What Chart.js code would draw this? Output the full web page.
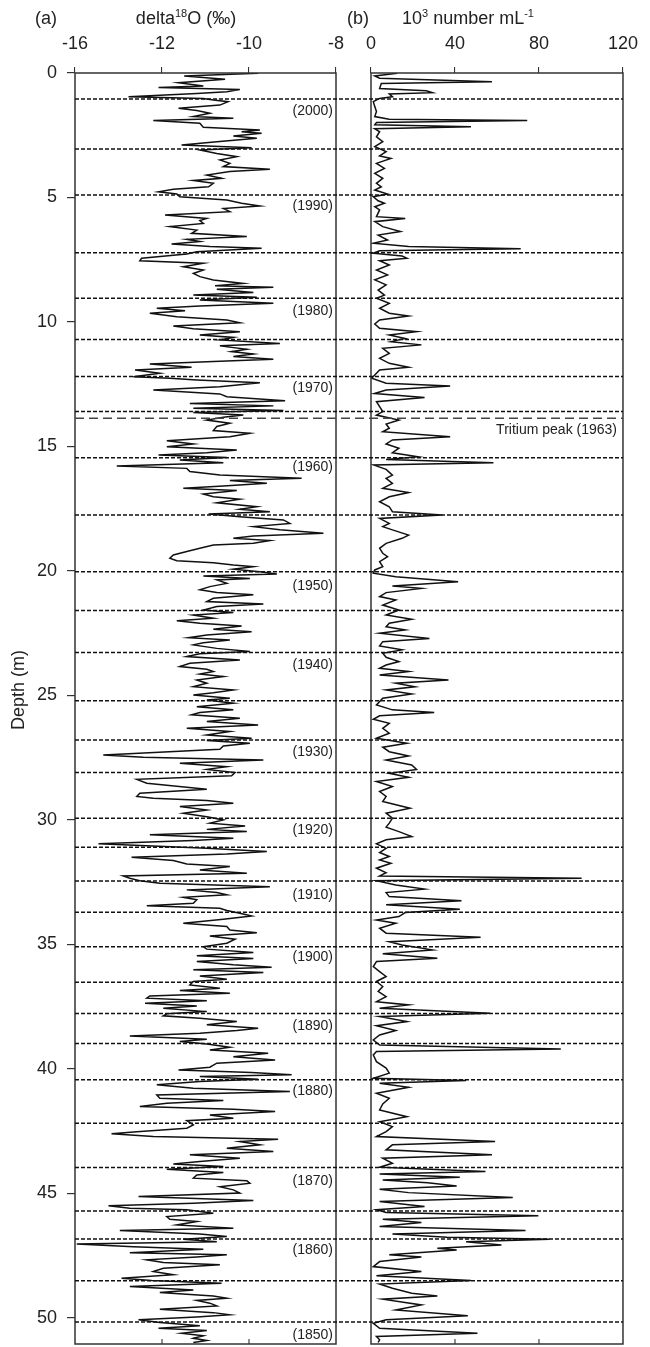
<!DOCTYPE html>
<html><head><meta charset="utf-8">
<script src="https://cdn.jsdelivr.net/npm/chart.js@4.4.1/dist/chart.umd.min.js"></script>
<style>
html,body{margin:0;padding:0;background:#fff;}
#wrap{position:relative;width:650px;height:1347px;background:#fff;}
canvas{position:absolute;left:0;top:0;}
</style></head><body>
<div id="wrap"><canvas id="ca" width="650" height="1347"></canvas><canvas id="cb" width="650" height="1347"></canvas></div>
<script>
// ---------- data ----------
const depthA = [0.01,0.12,0.25,0.39,0.52,0.58,0.66,0.75,0.82,0.95,1.02,1.08,1.15,1.29,1.42,1.51,1.62,1.75,1.82,1.91,2.02,2.18,2.29,2.36,2.42,2.53,2.62,2.76,2.89,3.00,3.09,3.23,3.36,3.49,3.63,3.76,3.87,3.96,4.10,4.23,4.32,4.43,4.57,4.67,4.77,4.86,4.97,5.10,5.23,5.34,5.44,5.57,5.70,5.84,5.93,6.04,6.17,6.31,6.44,6.57,6.68,6.77,6.87,6.97,7.04,7.18,7.27,7.44,7.54,7.64,7.78,7.91,8.05,8.18,8.31,8.45,8.55,8.61,8.69,8.82,8.92,9.01,9.12,9.25,9.36,9.45,9.55,9.65,9.79,9.92,10.03,10.16,10.27,10.39,10.52,10.62,10.72,10.86,10.96,11.10,11.19,11.29,11.39,11.50,11.59,11.69,11.82,11.93,12.06,12.20,12.26,12.33,12.44,12.60,12.73,12.89,13.00,13.16,13.27,13.37,13.47,13.56,13.64,13.74,13.83,13.94,14.07,14.20,14.36,14.47,14.61,14.77,14.90,15.01,15.14,15.25,15.34,15.44,15.54,15.65,15.78,15.88,16.01,16.15,16.28,16.37,16.48,16.59,16.68,16.77,16.91,17.02,17.12,17.26,17.42,17.52,17.62,17.71,17.82,17.95,18.09,18.22,18.35,18.49,18.60,18.69,18.78,18.89,18.96,19.09,19.22,19.36,19.49,19.59,19.67,19.76,19.83,19.93,20.03,20.12,20.20,20.30,20.36,20.50,20.63,20.76,20.87,20.96,21.10,21.23,21.33,21.43,21.57,21.67,21.77,21.90,22.00,22.10,22.21,22.34,22.44,22.57,22.68,22.77,22.88,22.97,23.11,23.24,23.33,23.44,23.58,23.71,23.84,23.95,24.04,24.14,24.24,24.38,24.51,24.65,24.78,24.89,24.98,25.11,25.18,25.31,25.45,25.58,25.69,25.78,25.92,26.05,26.19,26.32,26.45,26.59,26.72,26.81,26.92,27.03,27.16,27.39,27.48,27.59,27.72,27.86,27.97,28.10,28.23,28.37,28.53,28.77,28.93,29.06,29.13,29.22,29.33,29.46,29.60,29.73,29.87,30.00,30.13,30.24,30.38,30.47,30.60,30.74,30.83,30.96,31.14,31.27,31.37,31.50,31.63,31.77,31.87,32.01,32.14,32.25,32.34,32.44,32.54,32.68,32.81,32.92,33.01,33.11,33.21,33.35,33.45,33.55,33.64,33.75,33.86,33.99,34.15,34.28,34.42,34.53,34.66,34.79,34.95,35.09,35.19,35.33,35.46,35.57,35.69,35.82,35.92,36.02,36.13,36.27,36.40,36.49,36.63,36.76,36.85,36.96,37.07,37.16,37.26,37.36,37.47,37.56,37.70,37.79,37.87,37.97,38.10,38.23,38.37,38.46,38.57,38.68,38.81,38.90,39.00,39.13,39.24,39.37,39.51,39.64,39.77,39.93,40.04,40.15,40.24,40.31,40.42,40.51,40.64,40.78,40.91,41.05,41.18,41.27,41.38,41.51,41.62,41.71,41.85,41.98,42.08,42.25,42.38,42.52,42.61,42.72,42.83,42.92,43.05,43.19,43.32,43.45,43.59,43.72,43.82,43.92,44.03,44.16,44.26,44.39,44.49,44.59,44.73,44.86,44.99,45.13,45.29,45.40,45.50,45.60,45.66,45.80,45.93,46.04,46.13,46.27,46.40,46.49,46.63,46.73,46.84,46.94,47.03,47.14,47.24,47.38,47.47,47.56,47.67,47.78,47.87,48.01,48.14,48.27,48.41,48.50,48.61,48.74,48.88,48.98,49.12,49.21,49.30,49.41,49.52,49.65,49.79,49.88,49.97,50.08,50.19,50.32,50.42,50.51,50.62,50.72,50.82,50.91,50.99];
const d18O = [-9.79,-11.49,-10.55,-11.62,-11.05,-12.08,-10.21,-10.51,-11.20,-12.77,-11.05,-10.82,-10.48,-10.67,-11.62,-11.20,-10.90,-11.28,-10.36,-12.20,-11.13,-11.05,-9.75,-10.17,-9.71,-10.36,-9.82,-10.74,-11.55,-9.94,-11.13,-10.74,-10.28,-10.67,-10.44,-10.59,-9.52,-10.44,-10.97,-10.63,-11.28,-10.82,-10.93,-11.74,-12.08,-11.66,-11.59,-10.51,-10.17,-9.75,-10.59,-10.44,-11.93,-10.97,-11.13,-11.05,-11.82,-11.20,-11.32,-10.05,-11.43,-11.13,-11.78,-10.90,-9.71,-11.20,-11.43,-12.47,-12.51,-11.05,-11.51,-11.05,-11.28,-11.13,-10.82,-10.13,-10.78,-9.44,-10.74,-9.90,-11.28,-9.82,-11.13,-9.44,-11.13,-12.12,-11.47,-12.28,-11.66,-10.51,-10.21,-11.74,-11.28,-10.21,-11.13,-10.36,-10.67,-9.29,-10.67,-10.05,-10.40,-9.90,-10.36,-9.44,-10.82,-12.28,-11.32,-12.62,-12.05,-12.66,-11.82,-11.20,-9.75,-10.67,-12.20,-10.67,-10.51,-9.17,-11.36,-9.44,-11.28,-9.21,-11.28,-10.13,-10.59,-10.97,-10.44,-10.74,-10.82,-9.98,-10.44,-11.89,-11.28,-11.89,-10.28,-10.97,-12.08,-10.51,-11.59,-10.59,-13.04,-11.43,-11.36,-10.67,-8.79,-10.44,-9.59,-10.59,-11.51,-10.28,-11.05,-10.82,-10.21,-10.74,-9.82,-10.21,-9.52,-10.93,-10.21,-9.21,-9.06,-9.90,-9.29,-8.29,-9.90,-10.36,-9.52,-9.90,-10.82,-11.13,-11.43,-11.74,-11.82,-11.66,-10.82,-10.36,-9.90,-10.36,-9.75,-9.36,-11.05,-9.98,-10.74,-10.51,-10.90,-11.13,-10.74,-9.90,-10.82,-10.97,-9.67,-10.74,-11.05,-10.36,-11.28,-10.82,-11.66,-11.13,-10.17,-10.82,-9.94,-10.97,-11.39,-10.44,-11.05,-11.28,-10.74,-9.98,-11.13,-11.43,-10.21,-11.36,-11.59,-10.97,-10.82,-11.13,-10.59,-11.20,-10.97,-11.28,-10.36,-10.82,-11.28,-10.44,-10.97,-10.36,-11.20,-10.36,-11.13,-11.32,-10.21,-10.97,-9.79,-11.43,-10.44,-10.97,-9.94,-10.97,-9.98,-10.59,-10.67,-13.35,-12.43,-9.67,-11.59,-10.51,-10.97,-10.32,-10.40,-12.58,-12.35,-10.97,-12.51,-12.58,-12.20,-10.97,-10.36,-11.59,-10.97,-11.51,-10.97,-10.59,-10.90,-10.09,-10.97,-10.05,-12.28,-10.36,-11.28,-13.46,-10.97,-9.59,-10.51,-12.70,-11.74,-11.43,-10.44,-11.13,-10.05,-12.89,-12.74,-12.51,-12.05,-9.52,-11.43,-10.74,-10.51,-11.51,-11.20,-11.28,-12.35,-10.67,-10.51,-10.21,-9.94,-10.59,-11.51,-10.51,-10.44,-9.82,-10.90,-10.32,-10.51,-11.05,-10.97,-9.90,-11.20,-9.90,-11.20,-10.36,-9.48,-11.28,-9.67,-11.13,-10.51,-11.28,-11.36,-10.67,-11.59,-10.44,-12.28,-12.35,-10.97,-12.39,-11.20,-11.97,-10.97,-11.89,-11.97,-11.13,-10.28,-10.97,-9.79,-10.28,-11.13,-12.74,-10.97,-11.59,-10.97,-10.44,-10.90,-9.56,-10.36,-9.40,-10.74,-10.90,-11.62,-9.94,-9.02,-11.13,-9.79,-11.13,-12.12,-11.28,-9.06,-12.12,-12.05,-10.59,-11.89,-12.51,-10.36,-9.40,-10.90,-10.36,-11.43,-11.28,-11.43,-12.58,-13.16,-12.20,-9.33,-10.21,-9.75,-10.51,-9.44,-11.36,-10.21,-11.13,-11.74,-10.59,-11.89,-10.59,-11.20,-11.28,-10.05,-9.98,-10.67,-10.36,-10.21,-12.54,-9.90,-11.28,-13.23,-12.74,-11.43,-10.82,-11.89,-11.82,-11.20,-11.66,-10.36,-12.97,-11.13,-10.51,-11.51,-10.74,-13.96,-12.66,-11.05,-12.74,-10.51,-11.20,-12.35,-11.97,-10.67,-11.97,-12.20,-11.74,-12.93,-12.24,-10.63,-12.74,-11.28,-12.05,-10.82,-10.51,-11.20,-10.90,-10.74,-12.05,-10.82,-10.44,-11.20,-12.54,-12.05,-11.13,-12.08,-10.97,-11.55,-11.05,-11.28,-10.97,-11.28];

const depthB = [0.01,0.12,0.21,0.35,0.42,0.62,0.71,0.79,0.84,0.95,1.02,1.15,1.35,1.55,1.75,1.86,1.91,1.99,2.08,2.16,2.24,2.36,2.56,2.76,2.96,3.16,3.33,3.43,3.63,3.83,4.03,4.23,4.43,4.57,4.70,4.86,4.97,5.13,5.23,5.37,5.50,5.77,5.84,5.97,6.17,6.37,6.51,6.71,6.84,6.97,7.06,7.14,7.24,7.35,7.44,7.54,7.71,7.91,8.11,8.31,8.51,8.72,8.92,9.05,9.25,9.45,9.65,9.76,9.92,10.08,10.25,10.39,10.52,10.66,10.79,10.92,11.06,11.26,11.46,11.66,11.82,11.93,12.13,12.26,12.46,12.57,12.73,12.87,13.03,13.20,13.40,13.60,13.74,13.94,14.10,14.27,14.41,14.61,14.74,14.90,15.07,15.25,15.41,15.52,15.65,15.74,15.92,16.15,16.28,16.48,16.68,16.85,17.02,17.22,17.42,17.62,17.75,17.89,18.09,18.22,18.35,18.56,18.69,18.89,19.09,19.29,19.43,19.63,19.83,19.96,20.09,20.23,20.43,20.60,20.70,20.87,21.03,21.17,21.37,21.57,21.77,21.94,22.10,22.24,22.37,22.50,22.71,22.84,23.01,23.17,23.31,23.47,23.64,23.78,23.91,24.04,24.18,24.38,24.51,24.65,24.78,24.94,25.11,25.38,25.58,25.69,25.82,25.96,26.12,26.32,26.52,26.72,26.92,27.08,27.26,27.43,27.59,27.79,27.97,28.13,28.29,28.46,28.66,28.86,29.06,29.26,29.53,29.73,29.93,30.13,30.29,30.47,30.67,30.80,30.96,31.14,31.31,31.47,31.61,31.74,31.94,32.12,32.25,32.34,32.44,32.61,32.78,32.92,33.08,33.25,33.41,33.59,33.72,33.88,34.02,34.15,34.35,34.55,34.71,34.89,35.02,35.22,35.38,35.56,35.69,35.89,36.09,36.29,36.49,36.69,36.89,37.10,37.30,37.43,37.56,37.77,37.90,38.10,38.27,38.46,38.64,38.84,39.04,39.20,39.30,39.44,39.71,39.97,40.17,40.38,40.47,40.58,40.74,40.98,41.18,41.41,41.65,41.92,42.12,42.32,42.52,42.72,42.92,43.05,43.25,43.45,43.59,43.79,43.95,44.12,44.22,44.35,44.46,44.57,44.70,44.83,44.97,45.17,45.33,45.53,45.66,45.77,45.90,46.04,46.17,46.33,46.49,46.63,46.76,46.84,46.94,47.07,47.20,47.27,47.47,47.56,47.74,47.94,48.14,48.31,48.50,48.64,48.81,49.01,49.12,49.25,49.48,49.68,49.92,50.08,50.22,50.42,50.62,50.75,50.88,50.99];
const counts = [12.5,1.8,4.1,57.6,4.9,4.1,26.3,29.3,8.7,10.2,4.1,1.1,1.8,2.6,1.8,8.7,74.4,2.6,1.8,47.6,1.8,4.1,2.6,5.6,1.8,7.2,4.1,9.5,2.6,6.4,1.8,5.6,2.6,4.9,1.8,7.9,1.1,3.4,6.4,1.8,4.1,2.6,16.3,1.8,5.6,14.0,3.4,7.9,1.1,17.9,71.3,4.1,1.1,14.8,17.1,4.1,8.7,2.6,7.9,1.8,7.2,3.4,6.4,2.6,8.7,4.1,8.7,17.9,4.1,1.8,4.1,21.7,8.7,16.3,9.5,24.0,5.6,8.7,4.1,8.7,17.9,4.1,1.8,0.3,7.2,37.7,7.2,1.8,25.5,2.6,4.1,5.6,2.6,13.3,7.2,8.7,5.6,37.7,10.2,7.2,13.3,10.2,22.4,7.2,58.3,1.1,7.2,10.2,7.2,10.2,5.6,17.9,8.7,4.1,8.7,10.2,33.9,4.1,8.7,5.6,10.2,17.9,14.8,7.2,4.1,5.6,7.9,4.1,5.6,1.8,1.1,11.8,41.5,10.2,24.0,7.2,4.1,11.8,5.6,13.3,7.2,19.4,8.7,7.2,16.3,4.1,27.8,5.6,4.1,14.8,5.6,7.2,13.3,7.2,4.1,17.9,4.1,36.9,11.8,20.9,7.2,19.4,5.6,2.6,10.2,30.1,4.1,1.1,8.7,5.6,8.7,2.6,17.1,5.6,8.7,17.9,7.2,19.4,21.7,8.7,17.9,2.6,10.2,4.1,7.2,5.6,18.6,7.2,10.2,8.7,7.2,13.3,19.4,7.2,2.6,7.2,4.1,8.7,4.1,9.5,2.6,7.2,4.1,100.3,2.6,11.8,25.5,7.2,8.7,43.1,7.2,42.3,16.3,13.3,2.6,11.8,4.1,7.2,52.2,8.7,14.8,29.3,5.6,31.6,2.6,1.1,4.1,7.2,2.6,5.6,3.4,7.2,2.6,17.9,4.1,56.8,4.1,17.1,2.6,11.8,4.1,1.1,4.1,90.4,2.6,1.1,2.6,7.2,8.7,1.1,45.3,4.1,17.9,2.6,8.7,5.6,4.1,17.1,4.1,10.2,7.2,2.6,59.1,10.2,7.2,57.6,5.6,10.2,4.1,54.5,4.1,42.3,5.6,27.0,40.8,4.1,17.9,67.5,4.1,25.5,2.6,7.2,79.7,5.6,24.0,4.1,73.6,10.2,36.2,85.0,45.3,62.1,31.6,40.8,8.7,24.0,4.1,1.1,24.0,2.6,47.6,4.1,10.2,19.4,31.6,5.6,24.0,11.8,46.1,7.2,1.1,4.1,50.7,2.6,4.1,3.4];

const depthTicks = [0,5,10,15,20,25,30,35,40,45,50];
const xTicksA = [-14,-12,-10,-8];
const xTickLabelsA = ['-16','-12','-10','-8'];
const xTicksB = [0,40,80,120];
const markerDepths = [1.04,3.05,4.90,7.22,9.05,10.70,12.19,13.60,15.45,17.75,20.03,21.59,23.28,25.21,26.79,28.10,29.93,31.10,32.45,33.71,35.09,36.52,37.78,38.98,40.44,42.18,43.96,45.71,46.83,48.51,50.17];
const yearLabels = ['(2000)','(1990)','(1980)','(1970)','(1960)','(1950)','(1940)','(1930)','(1920)','(1910)','(1900)','(1890)','(1880)','(1870)','(1860)','(1850)'];
const yearDepths = [1.55,5.34,9.58,12.66,15.84,20.60,23.80,27.26,30.43,33.01,35.51,38.30,40.91,44.49,47.27,50.68];
const tritiumDepth = 13.87;
const tritiumLabelDepth = 14.34;
const tritiumLabel = 'Tritium peak (1963)';
const DEPTH_MAX = 51.05;

// ---------- styling ----------
const FONT = "'Liberation Sans', Arial, Helvetica, sans-serif";
Chart.defaults.font.family = FONT;
Chart.defaults.color = '#222';
const INK = '#111';

function rich(ctx, parts, x, y, align) {
  let w = 0;
  parts.forEach(p => { ctx.font = p[1] + 'px ' + FONT; w += ctx.measureText(p[0]).width; });
  let cx = align === 'center' ? x - w / 2 : x;
  ctx.textAlign = 'left';
  ctx.textBaseline = 'alphabetic';
  parts.forEach(p => { ctx.font = p[1] + 'px ' + FONT; ctx.fillText(p[0], cx, y + p[2]); cx += ctx.measureText(p[0]).width; });
}

function frameAndTicks(chart, ticks) {
  const {ctx, chartArea: a} = chart;
  const xs = chart.scales.x;
  ctx.save();
  ctx.strokeStyle = '#333';
  ctx.lineWidth = 1.5;
  ctx.setLineDash([]);
  ctx.strokeRect(a.left, a.top, a.right - a.left, a.bottom - a.top);
  ctx.lineWidth = 1.1;
  ticks.forEach(v => {
    const px = xs.getPixelForValue(v);
    if (px <= a.left + 1 || px >= a.right - 1) return;
    ctx.beginPath(); ctx.moveTo(px, a.bottom); ctx.lineTo(px, a.bottom - 5); ctx.stroke();
  });
  ctx.restore();
}

const panelA = {
  id: 'panelA',
  afterDraw(chart) {
    const {ctx, chartArea: a} = chart;
    const ys = chart.scales.y;
    frameAndTicks(chart, xTicksA);
    ctx.save();
    ctx.fillStyle = '#222';
    ctx.font = '14px ' + FONT;
    ctx.textAlign = 'right';
    ctx.textBaseline = 'middle';
    yearLabels.forEach((t, i) => ctx.fillText(t, a.right - 3, ys.getPixelForValue(yearDepths[i])));
    rich(ctx, [['(a)', 18, 0]], 46, 24, 'center');
    rich(ctx, [['delta', 18, 0], ['18', 11, -7], ['O (‰)', 18, 0]], 186, 24, 'center');
    ctx.save();
    ctx.translate(24, 690);
    ctx.rotate(-Math.PI / 2);
    ctx.font = '18px ' + FONT;
    ctx.textAlign = 'center';
    ctx.textBaseline = 'alphabetic';
    ctx.fillText('Depth (m)', 0, 0);
    ctx.restore();
    ctx.restore();
  }
};

const panelB = {
  id: 'panelB',
  afterDraw(chart) {
    const {ctx, chartArea: a} = chart;
    const ys = chart.scales.y;
    frameAndTicks(chart, xTicksB);
    const left = chartA.chartArea.left;
    ctx.save();
    ctx.strokeStyle = INK;
    ctx.lineWidth = 1.5;
    ctx.setLineDash([4, 2]);
    markerDepths.forEach(d => {
      const py = ys.getPixelForValue(d);
      ctx.beginPath(); ctx.moveTo(left, py); ctx.lineTo(a.right, py); ctx.stroke();
    });
    ctx.strokeStyle = '#444';
    ctx.lineWidth = 1.6;
    ctx.setLineDash([9, 5]);
    const ty = ys.getPixelForValue(tritiumDepth);
    ctx.beginPath(); ctx.moveTo(left, ty); ctx.lineTo(a.right, ty); ctx.stroke();
    ctx.setLineDash([]);
    ctx.fillStyle = '#222';
    ctx.font = '14px ' + FONT;
    ctx.textAlign = 'right';
    ctx.textBaseline = 'middle';
    ctx.fillText(tritiumLabel, a.right - 6, ys.getPixelForValue(tritiumLabelDepth));
    rich(ctx, [['(b)', 18, 0]], 358, 24, 'center');
    rich(ctx, [['10', 18, 0], ['3', 11, -7], [' number mL', 18, 0], ['-1', 11, -7]], 468, 24, 'center');
    ctx.restore();
  }
};

function fixedTicks(ticksArr) {
  return s => { s.ticks = ticksArr.map(v => ({value: v})); };
}
function fixTop(s) { s.height = 73; }
function fixLeft(s) { s.width = 75; s.paddingTop = 0; s.paddingBottom = 0; }

const chartA = new Chart(document.getElementById('ca'), {
  type: 'line',
  data: { datasets: [{
    data: depthA.map((d, i) => ({x: d18O[i], y: d})),
    borderColor: INK, borderWidth: 1.5, pointRadius: 0, tension: 0, fill: false
  }]},
  options: {
    responsive: false, animation: false, indexAxis: 'y',
    layout: { padding: { left: 0, right: 314, top: 0, bottom: 3 } },
    plugins: { legend: { display: false }, tooltip: { enabled: false } },
    scales: {
      x: {
        type: 'linear', position: 'top', min: -14, max: -8,
        afterBuildTicks: fixedTicks(xTicksA),
        ticks: { callback: v => xTickLabelsA[xTicksA.indexOf(v)], font: { size: 18 }, padding: 12, maxRotation: 0, autoSkip: false, color: '#222' },
        grid: { drawOnChartArea: false, drawTicks: true, tickLength: 6, color: '#333', tickColor: '#333', lineWidth: 1.1 },
        border: { display: false },
        afterFit: fixTop
      },
      y: {
        type: 'linear', reverse: true, min: 0, max: DEPTH_MAX,
        afterBuildTicks: fixedTicks(depthTicks),
        ticks: { font: { size: 18 }, padding: 10, autoSkip: false, color: '#222', includeBounds: false },
        grid: { drawOnChartArea: false, drawTicks: true, tickLength: 8, color: '#333', tickColor: '#333', lineWidth: 1.2 },
        border: { display: false },
        afterFit: fixLeft
      }
    }
  },
  plugins: [panelA]
});

const chartB = new Chart(document.getElementById('cb'), {
  type: 'line',
  data: { datasets: [{
    data: depthB.map((d, i) => ({x: counts[i], y: d})),
    borderColor: INK, borderWidth: 1.5, pointRadius: 0, tension: 0, fill: false
  }]},
  options: {
    responsive: false, animation: false, indexAxis: 'y',
    layout: { padding: { left: 371, right: 17, top: 0, bottom: 3 } },
    plugins: { legend: { display: false }, tooltip: { enabled: false } },
    scales: {
      x: {
        type: 'linear', position: 'top', min: 0, max: 120,
        afterBuildTicks: fixedTicks(xTicksB),
        ticks: { font: { size: 18 }, padding: 12, maxRotation: 0, autoSkip: false, color: '#222' },
        grid: { drawOnChartArea: false, drawTicks: true, tickLength: 6, color: '#333', tickColor: '#333', lineWidth: 1.1 },
        border: { display: false },
        afterFit: fixTop
      },
      y: { type: 'linear', reverse: true, min: 0, max: DEPTH_MAX, display: false }
    }
  },
  plugins: [panelB]
});
</script>
</body></html>
